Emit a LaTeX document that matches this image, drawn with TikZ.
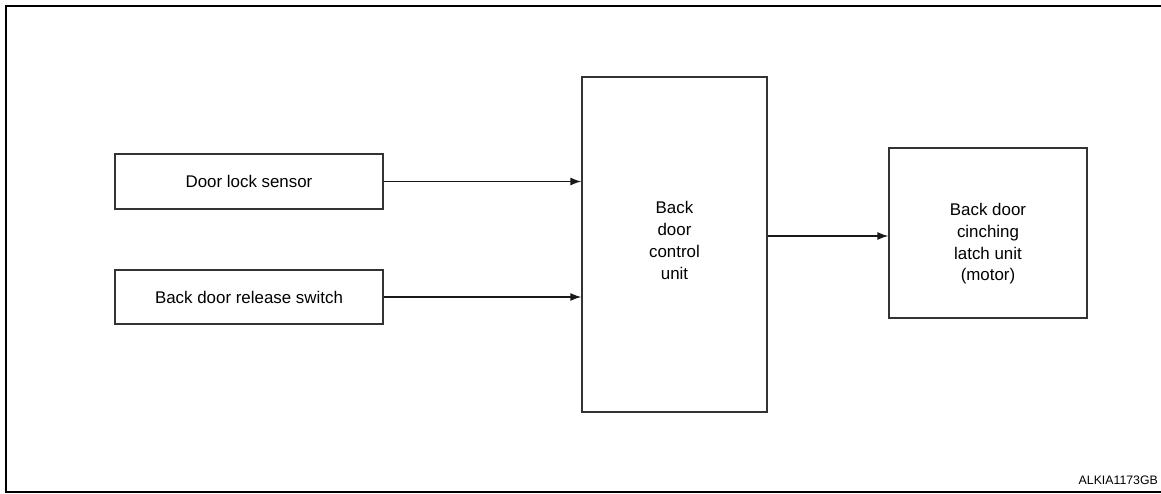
\documentclass[tikz,border=0pt]{standalone}
\usepackage{fontspec}
\setmainfont{Liberation Sans}
\usetikzlibrary{arrows.meta,calc}
\begin{document}
\begin{tikzpicture}[x=1pt,y=-1pt,
  box/.style={draw=black!80, line width=1.3pt, rectangle, inner sep=0pt, align=center,
    font=\fontsize{16.9}{21.7}\selectfont},
  lbl/.style={inner sep=0pt, align=center, font=\fontsize{16.9}{21.7}\selectfont},
  conn/.style={draw=black!90, line width=1.4pt, -{Latex[length=11pt,width=8pt]}},
  frame/.style={draw=black, line width=2.2pt}
]
\useasboundingbox (0,0) rectangle (1161,494);
\draw[frame] (1170,6) -- (6,6) -- (6,492) -- (1170,492);

\node[box, minimum width=268pt, minimum height=55pt] (dls) at (249,181.5) {Door lock sensor};
\node[box, minimum width=268pt, minimum height=54pt] (bdrs) at (249,297) {Back door release switch};
\node[box, minimum width=185pt, minimum height=335pt] (bdcu) at (674.5,244.5) {};
\node[lbl] (bdcutxt) at (674.5,240.5) {Back\\door\\control\\unit};
\node[box, minimum width=198pt, minimum height=170pt] (cinch) at (988,233) {};
\node[lbl] (cinchtxt) at (988,244) {Back door\\cinching\\latch unit\\(motor)};

\draw[conn] (dls.east) -- (dls.east -| bdcu.west);
\draw[conn] (bdrs.east) -- (bdrs.east -| bdcu.west);
\coordinate (outy) at ($(cinch.west)+(0,3)$);
\draw[conn] (outy -| bdcu.east) -- (outy);

\node[anchor=base east, inner sep=0pt, font=\fontsize{12.3}{14}\selectfont] (code) at (1158,484) {ALKIA1173GB};
\end{tikzpicture}
\end{document}
